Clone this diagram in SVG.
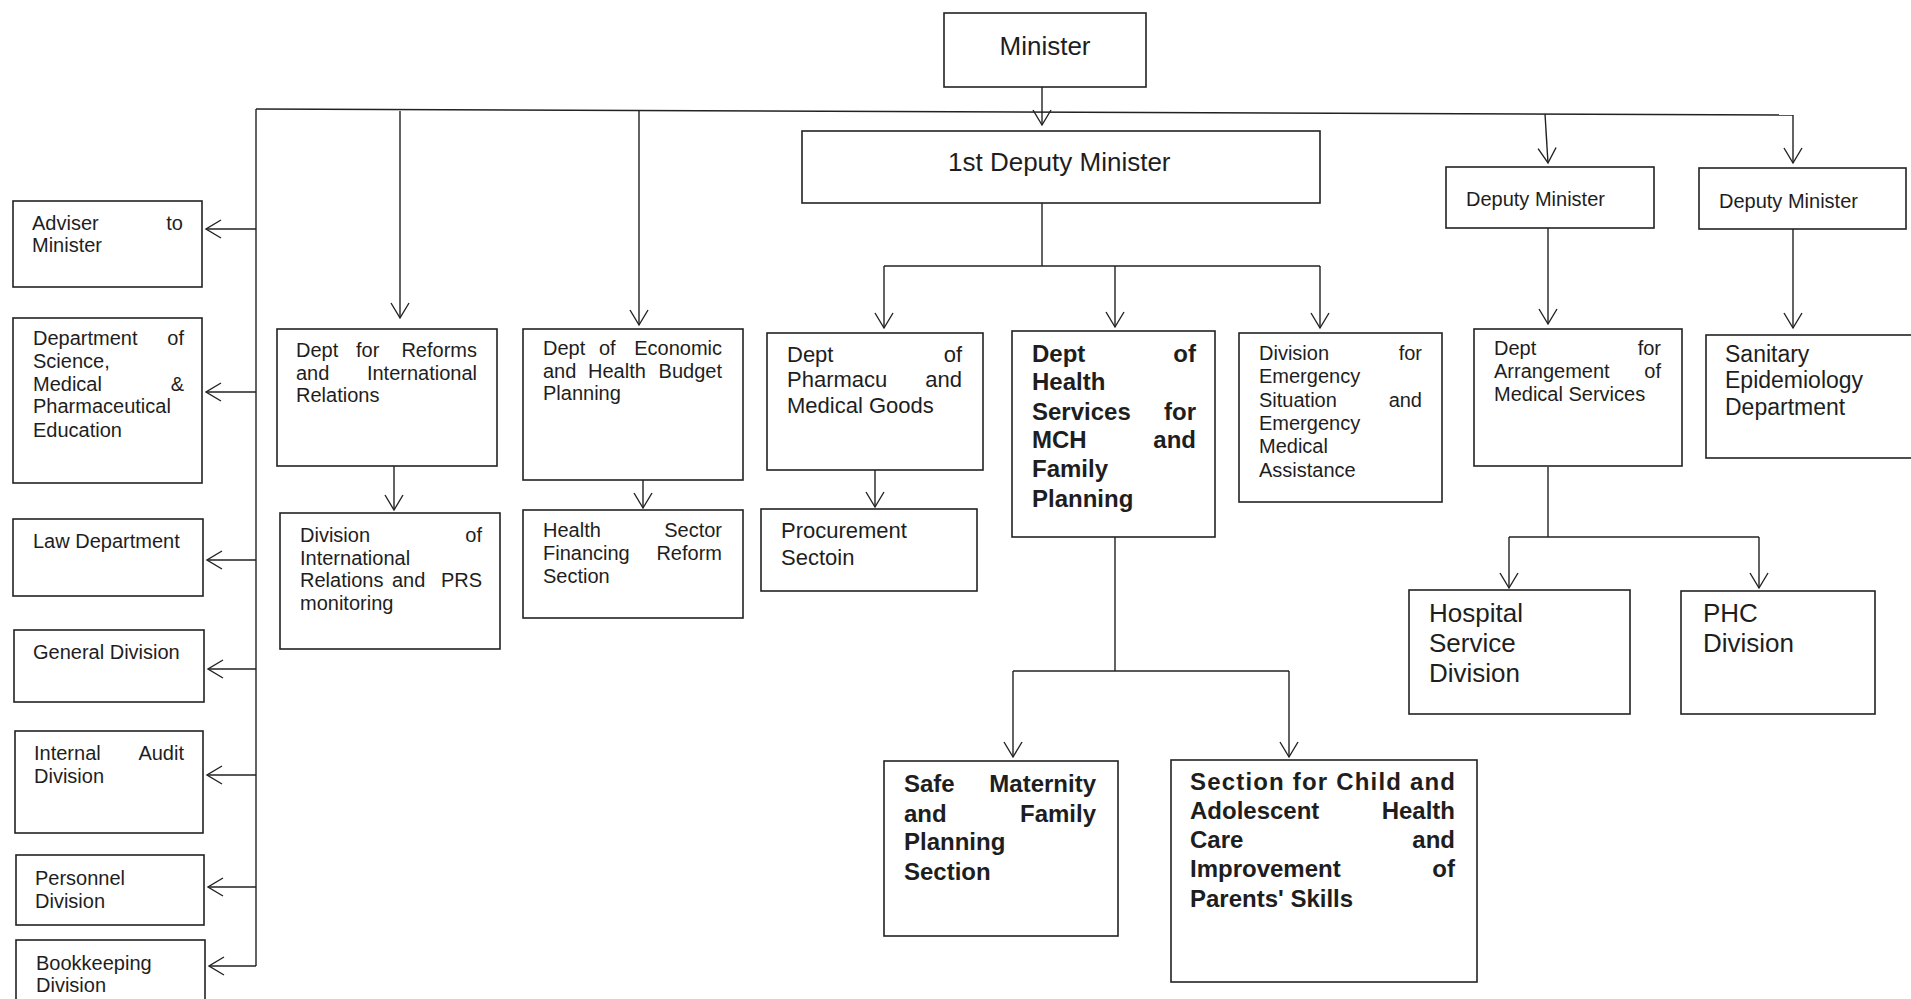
<svg xmlns="http://www.w3.org/2000/svg" width="1911" height="999" viewBox="0 0 1911 999">
<defs>
<style>
.box{fill:#fff;stroke:#222;stroke-width:1.6}
.ln{fill:none;stroke:#222;stroke-width:1.4}
.arr{fill:none;stroke:#222;stroke-width:1.4;marker-end:url(#ah)}
text{font-family:"Liberation Sans",Arial,sans-serif;fill:#1e1e1e}
.f20{font-size:20px}
.f22{font-size:22px}
.f23{font-size:23px}
.f26{font-size:26px}
.b24{font-size:24px;font-weight:bold}
.e{text-anchor:end}
</style>
<marker id="ah" markerUnits="userSpaceOnUse" markerWidth="20" markerHeight="22" viewBox="-17 -11 19 22" refX="0" refY="0" orient="auto">
<path d="M-15,-9 L0,0 L-15,9" fill="none" stroke="#222" stroke-width="1.4"/>
</marker>
</defs>
<rect width="1911" height="999" fill="#fff"/>

<g id="connectors">
<path class="ln" d="M256,109 L1793,115"/>
<path class="ln" d="M256,109 V966"/>
<path class="arr" d="M256,229 H206"/>
<path class="arr" d="M256,392 H206"/>
<path class="arr" d="M256,560 H207"/>
<path class="arr" d="M256,669 H208"/>
<path class="arr" d="M256,775 H207"/>
<path class="arr" d="M256,887 H208"/>
<path class="arr" d="M256,966 H209"/>
<path class="arr" d="M400,111 V318"/>
<path class="arr" d="M639,111 V325"/>
<path class="arr" d="M1042,87 V125"/>
<path class="arr" d="M1545,114 L1548,163"/>
<path class="arr" d="M1793,115 V163"/>
<path class="ln" d="M1042,203 V266"/>
<path class="ln" d="M884,266 H1320"/>
<path class="arr" d="M884,266 V328"/>
<path class="arr" d="M1115,266 V327"/>
<path class="arr" d="M1320,266 V328"/>
<path class="arr" d="M394,466 V510"/>
<path class="arr" d="M643,480 V508"/>
<path class="arr" d="M875,470 V507"/>
<path class="ln" d="M1115,537 V671"/>
<path class="ln" d="M1013,671 H1289"/>
<path class="arr" d="M1013,671 V757"/>
<path class="arr" d="M1289,671 V757"/>
<path class="arr" d="M1548,228 V324"/>
<path class="arr" d="M1793,229 V328"/>
<path class="ln" d="M1548,467 V537"/>
<path class="ln" d="M1509,537 H1759"/>
<path class="arr" d="M1509,537 V588"/>
<path class="arr" d="M1759,537 V588"/>
</g>

<g id="minister">
<rect class="box" x="944" y="13" width="202" height="74"/>
<text class="f26" x="1045" y="55" text-anchor="middle">Minister</text>
</g>

<g id="first-deputy">
<rect class="box" x="802" y="131" width="518" height="72"/>
<text class="f26" x="948" y="171">1st Deputy Minister</text>
</g>

<g id="deputy-1">
<rect class="box" x="1446" y="167" width="208" height="61"/>
<text class="f20" x="1466" y="206">Deputy Minister</text>
</g>

<g id="deputy-2">
<rect class="box" x="1699" y="168" width="207" height="61"/>
<text class="f20" x="1719" y="208">Deputy Minister</text>
</g>

<g id="adviser">
<rect class="box" x="13" y="201" width="189" height="86"/>
<text class="f20" x="32" y="230">Adviser</text>
<text class="f20 e" x="183" y="230">to</text>
<text class="f20" x="32" y="252">Minister</text>
</g>

<g id="science">
<rect class="box" x="13" y="318" width="189" height="165"/>
<text class="f20" x="33" y="345">Department</text>
<text class="f20 e" x="184" y="345">of</text>
<text class="f20" x="33" y="368">Science,</text>
<text class="f20" x="33" y="391">Medical</text>
<text class="f20 e" x="184" y="391">&amp;</text>
<text class="f20" x="33" y="413">Pharmaceutical</text>
<text class="f20" x="33" y="437">Education</text>
</g>

<g id="law">
<rect class="box" x="13" y="519" width="190" height="77"/>
<text class="f20" x="33" y="548">Law Department</text>
</g>

<g id="general">
<rect class="box" x="14" y="630" width="190" height="72"/>
<text class="f20" x="33" y="659">General Division</text>
</g>

<g id="audit">
<rect class="box" x="15" y="731" width="188" height="102"/>
<text class="f20" x="34" y="760">Internal</text>
<text class="f20 e" x="184" y="760">Audit</text>
<text class="f20" x="34" y="783">Division</text>
</g>

<g id="personnel">
<rect class="box" x="16" y="855" width="188" height="70"/>
<text class="f20" x="35" y="885">Personnel</text>
<text class="f20" x="35" y="908">Division</text>
</g>

<g id="bookkeeping">
<rect class="box" x="16" y="940" width="189" height="72"/>
<text class="f20" x="36" y="970">Bookkeeping</text>
<text class="f20" x="36" y="992">Division</text>
</g>

<g id="reforms">
<rect class="box" x="277" y="329" width="220" height="137"/>
<text class="f20" x="296" y="357">Dept</text>
<text class="f20" x="356" y="357">for</text>
<text class="f20 e" x="477" y="357">Reforms</text>
<text class="f20" x="296" y="380">and</text>
<text class="f20 e" x="477" y="380">International</text>
<text class="f20" x="296" y="402">Relations</text>
</g>

<g id="intl-relations">
<rect class="box" x="280" y="513" width="220" height="136"/>
<text class="f20" x="300" y="542">Division</text>
<text class="f20 e" x="482" y="542">of</text>
<text class="f20" x="300" y="565">International</text>
<text class="f20" x="300" y="587">Relations</text>
<text class="f20" x="392" y="587">and</text>
<text class="f20 e" x="482" y="587">PRS</text>
<text class="f20" x="300" y="610">monitoring</text>
</g>

<g id="economic">
<rect class="box" x="523" y="329" width="220" height="151"/>
<text class="f20" x="543" y="355">Dept</text>
<text class="f20" x="599" y="355">of</text>
<text class="f20 e" x="722" y="355">Economic</text>
<text class="f20" x="543" y="378">and</text>
<text class="f20" x="588" y="378">Health</text>
<text class="f20 e" x="722" y="378">Budget</text>
<text class="f20" x="543" y="400">Planning</text>
</g>

<g id="health-sector">
<rect class="box" x="523" y="510" width="220" height="108"/>
<text class="f20" x="543" y="537">Health</text>
<text class="f20 e" x="722" y="537">Sector</text>
<text class="f20" x="543" y="560">Financing</text>
<text class="f20 e" x="722" y="560">Reform</text>
<text class="f20" x="543" y="583">Section</text>
</g>

<g id="pharmacu">
<rect class="box" x="767" y="333" width="216" height="137"/>
<text class="f22" x="787" y="362">Dept</text>
<text class="f22 e" x="962" y="362">of</text>
<text class="f22" x="787" y="387">Pharmacu</text>
<text class="f22 e" x="962" y="387">and</text>
<text class="f22" x="787" y="413">Medical Goods</text>
</g>

<g id="procurement">
<rect class="box" x="761" y="509" width="216" height="82"/>
<text class="f22" x="781" y="538">Procurement</text>
<text class="f22" x="781" y="565">Sectoin</text>
</g>

<g id="health-services">
<rect class="box" x="1012" y="331" width="203" height="206"/>
<text class="b24" x="1032" y="362">Dept</text>
<text class="b24 e" x="1196" y="362">of</text>
<text class="b24" x="1032" y="390">Health</text>
<text class="b24" x="1032" y="420">Services</text>
<text class="b24 e" x="1196" y="420">for</text>
<text class="b24" x="1032" y="448">MCH</text>
<text class="b24 e" x="1196" y="448">and</text>
<text class="b24" x="1032" y="477">Family</text>
<text class="b24" x="1032" y="507">Planning</text>
</g>

<g id="emergency">
<rect class="box" x="1239" y="333" width="203" height="169"/>
<text class="f20" x="1259" y="360">Division</text>
<text class="f20 e" x="1422" y="360">for</text>
<text class="f20" x="1259" y="383">Emergency</text>
<text class="f20" x="1259" y="407">Situation</text>
<text class="f20 e" x="1422" y="407">and</text>
<text class="f20" x="1259" y="430">Emergency</text>
<text class="f20" x="1259" y="453">Medical</text>
<text class="f20" x="1259" y="477">Assistance</text>
</g>

<g id="arrangement">
<rect class="box" x="1474" y="329" width="208" height="137"/>
<text class="f20" x="1494" y="355">Dept</text>
<text class="f20 e" x="1661" y="355">for</text>
<text class="f20" x="1494" y="378">Arrangement</text>
<text class="f20 e" x="1661" y="378">of</text>
<text class="f20" x="1494" y="401">Medical Services</text>
</g>

<g id="sanitary">
<rect class="box" x="1706" y="335" width="215" height="123"/>
<text class="f23" x="1725" y="362">Sanitary</text>
<text class="f23" x="1725" y="388">Epidemiology</text>
<text class="f23" x="1725" y="415">Department</text>
</g>

<g id="hospital">
<rect class="box" x="1409" y="590" width="221" height="124"/>
<text class="f26" x="1429" y="622">Hospital</text>
<text class="f26" x="1429" y="652">Service</text>
<text class="f26" x="1429" y="682">Division</text>
</g>

<g id="phc">
<rect class="box" x="1681" y="591" width="194" height="123"/>
<text class="f26" x="1703" y="622">PHC</text>
<text class="f26" x="1703" y="652">Division</text>
</g>

<g id="safe-maternity">
<rect class="box" x="884" y="761" width="234" height="175"/>
<text class="b24" x="904" y="792">Safe</text>
<text class="b24 e" x="1096" y="792">Maternity</text>
<text class="b24" x="904" y="822">and</text>
<text class="b24 e" x="1096" y="822">Family</text>
<text class="b24" x="904" y="850">Planning</text>
<text class="b24" x="904" y="880">Section</text>
</g>

<g id="child-section">
<rect class="box" x="1171" y="760" width="306" height="222"/>
<text class="b24" x="1190" y="790" textLength="265" lengthAdjust="spacing">Section for Child and</text>
<text class="b24" x="1190" y="819">Adolescent</text>
<text class="b24 e" x="1455" y="819">Health</text>
<text class="b24" x="1190" y="848">Care</text>
<text class="b24 e" x="1455" y="848">and</text>
<text class="b24" x="1190" y="877">Improvement</text>
<text class="b24 e" x="1455" y="877">of</text>
<text class="b24" x="1190" y="907">Parents' Skills</text>
</g>
</svg>
